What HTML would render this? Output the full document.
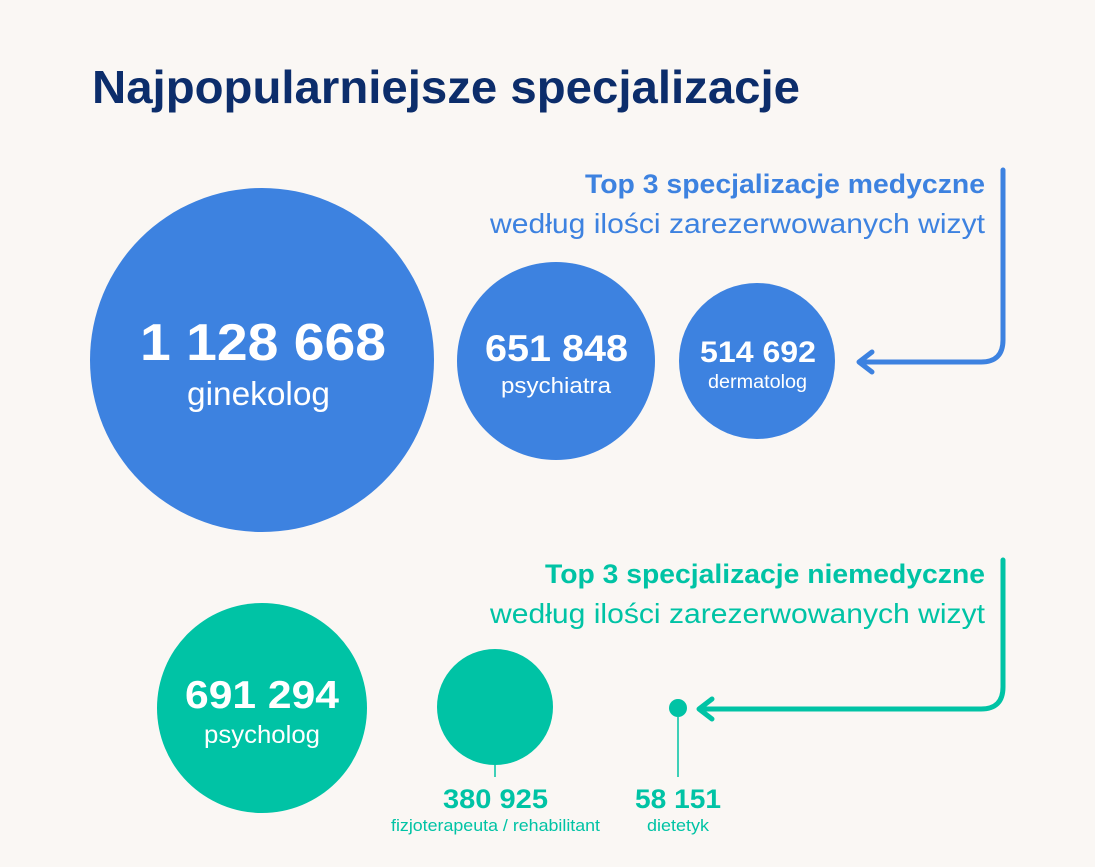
<!DOCTYPE html>
<html><head><meta charset="utf-8"><style>
body{margin:0;width:1095px;height:862px;background:#faf7f4;overflow:hidden;font-family:"Liberation Sans",Arial,sans-serif;}
</style></head><body>
<svg width="1095" height="862" viewBox="0 0 1095 862" xmlns="http://www.w3.org/2000/svg" font-family="Liberation Sans, Arial, sans-serif">
<rect width="1095" height="862" fill="#faf7f4"/>
<text x="92" y="103" font-size="46" font-weight="bold" fill="#0c2d6b" textLength="708" lengthAdjust="spacingAndGlyphs">Najpopularniejsze specjalizacje</text>
<text x="585" y="193" font-size="27" font-weight="bold" fill="#3d82e0" textLength="400" lengthAdjust="spacingAndGlyphs">Top 3 specjalizacje medyczne</text>
<text x="490" y="233" font-size="28" fill="#3d82e0" textLength="495" lengthAdjust="spacingAndGlyphs">według ilości zarezerwowanych wizyt</text>
<path d="M1003 170 V340 Q1003 362 981 362 H862" fill="none" stroke="#3d82e0" stroke-width="5" stroke-linecap="round"/>
<path d="M872 352 L859 362 L872 372" fill="none" stroke="#3d82e0" stroke-width="5" stroke-linecap="round" stroke-linejoin="round"/>
<circle cx="262" cy="360" r="172" fill="#3d82e0"/>
<circle cx="556" cy="361" r="99" fill="#3d82e0"/>
<circle cx="757" cy="361" r="78" fill="#3d82e0"/>
<text x="140" y="360" font-size="52" font-weight="bold" fill="#fff" textLength="246" lengthAdjust="spacingAndGlyphs">1 128 668</text>
<text x="187" y="405" font-size="33" fill="#fff" textLength="143" lengthAdjust="spacingAndGlyphs">ginekolog</text>
<text x="485" y="361" font-size="37" font-weight="bold" fill="#fff" textLength="143" lengthAdjust="spacingAndGlyphs">651 848</text>
<text x="501" y="393" font-size="22" fill="#fff" textLength="110" lengthAdjust="spacingAndGlyphs">psychiatra</text>
<text x="700" y="362" font-size="30" font-weight="bold" fill="#fff" textLength="116" lengthAdjust="spacingAndGlyphs">514 692</text>
<text x="708" y="388" font-size="19" fill="#fff" textLength="99" lengthAdjust="spacingAndGlyphs">dermatolog</text>
<text x="545" y="583" font-size="27" font-weight="bold" fill="#00c3a5" textLength="440" lengthAdjust="spacingAndGlyphs">Top 3 specjalizacje niemedyczne</text>
<text x="490" y="623" font-size="28" fill="#00c3a5" textLength="495" lengthAdjust="spacingAndGlyphs">według ilości zarezerwowanych wizyt</text>
<path d="M1003 560 V687 Q1003 709 981 709 H702" fill="none" stroke="#00c3a5" stroke-width="5" stroke-linecap="round"/>
<path d="M712 699 L699 709 L712 719" fill="none" stroke="#00c3a5" stroke-width="5" stroke-linecap="round" stroke-linejoin="round"/>
<circle cx="262" cy="708" r="105" fill="#00c3a5"/>
<circle cx="495" cy="707" r="58" fill="#00c3a5"/>
<circle cx="678" cy="708" r="9" fill="#00c3a5"/>
<line x1="495" y1="765" x2="495" y2="777" stroke="#00c3a5" stroke-width="1.5"/>
<line x1="678" y1="717" x2="678" y2="777" stroke="#00c3a5" stroke-width="1.5"/>
<text x="185" y="708" font-size="39" font-weight="bold" fill="#fff" textLength="154" lengthAdjust="spacingAndGlyphs">691 294</text>
<text x="204" y="743" font-size="25" fill="#fff" textLength="116" lengthAdjust="spacingAndGlyphs">psycholog</text>
<text x="443" y="808" font-size="27" font-weight="bold" fill="#00c3a5" textLength="105" lengthAdjust="spacingAndGlyphs">380 925</text>
<text x="391" y="831" font-size="17" fill="#00c3a5" textLength="209" lengthAdjust="spacingAndGlyphs">fizjoterapeuta / rehabilitant</text>
<text x="635" y="808" font-size="27" font-weight="bold" fill="#00c3a5" textLength="86" lengthAdjust="spacingAndGlyphs">58 151</text>
<text x="647" y="831" font-size="17" fill="#00c3a5" textLength="62" lengthAdjust="spacingAndGlyphs">dietetyk</text>
</svg>
</body></html>
